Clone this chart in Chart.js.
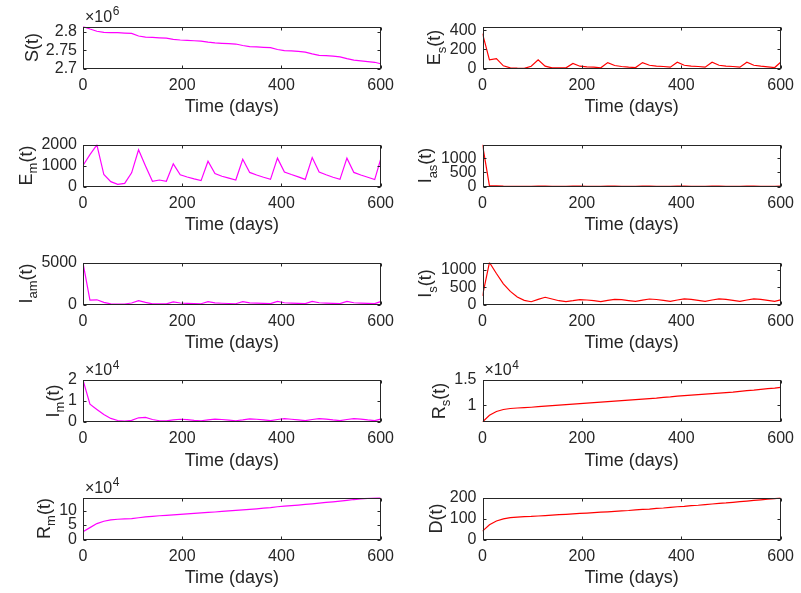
<!DOCTYPE html>
<html>
<head>
<meta charset="utf-8">
<script src="https://cdn.jsdelivr.net/npm/chart.js@4.4.0/dist/chart.umd.min.js"></script>
<style>
  body { margin: 0; background: #fff; width: 801px; height: 593px; position: relative; overflow: hidden; }
  canvas { position: absolute; }
</style>
</head>
<body>
<script>
// time axis (days), sampled every 14 days
const days = [0,14,28,42,56,70,84,98,112,126,140,154,168,182,196,210,224,238,252,266,280,294,308,322,336,350,364,378,392,406,420,434,448,462,476,490,504,518,532,546,560,574,588,600];

// compartments (S in 1e6, I_m / R_s / R_m in 1e4)
const S   = [2.815,2.808,2.802,2.799,2.798,2.798,2.797,2.796,2.789,2.786,2.785,2.784,2.783,2.780,2.778,2.777,2.776,2.775,2.772,2.770,2.769,2.768,2.767,2.763,2.760,2.759,2.758,2.757,2.752,2.749,2.748,2.747,2.745,2.740,2.736,2.735,2.734,2.732,2.727,2.723,2.721,2.719,2.717,2.713];
const Es  = [365,90,103,28,7,3,2,24,90,24,7,7,7,52,24,17,14,7,62,31,21,14,10,62,34,24,21,14,65,34,24,21,14,65,34,24,21,14,65,34,24,17,10,65];
const Em  = [1000,1520,1980,570,230,100,150,650,1750,980,250,310,250,1080,560,450,360,280,1200,620,490,400,310,1300,670,550,440,340,1350,690,570,460,340,1380,690,560,440,340,1350,670,550,440,330,1300];
const Ias = [1480,25,20,10,6,4,4,8,18,14,7,5,5,12,10,8,6,5,14,10,8,6,5,15,11,8,6,5,15,11,8,6,5,15,11,8,6,5,15,11,8,6,5,14];
const Iam = [4950,520,560,250,80,50,60,180,450,250,80,90,80,300,180,140,110,90,330,190,150,120,90,350,200,160,130,100,370,210,170,140,100,370,210,170,140,100,370,210,170,140,100,350];
const Is  = [250,1220,900,600,380,220,120,80,150,210,160,110,85,110,140,130,110,85,120,150,140,115,90,125,160,145,120,90,130,165,150,120,90,130,165,150,120,90,130,165,150,120,90,135];
const Im  = [2.0,0.85,0.6,0.36,0.17,0.07,0.04,0.08,0.2,0.22,0.12,0.06,0.05,0.1,0.13,0.11,0.08,0.06,0.1,0.14,0.12,0.09,0.06,0.1,0.15,0.13,0.1,0.07,0.12,0.16,0.13,0.1,0.07,0.12,0.16,0.14,0.1,0.07,0.12,0.16,0.14,0.1,0.07,0.14];
const Rs  = [0.667,0.80,0.875,0.915,0.935,0.945,0.952,0.96,0.97,0.98,0.99,1.0,1.01,1.02,1.03,1.04,1.05,1.06,1.07,1.08,1.09,1.10,1.11,1.12,1.13,1.14,1.155,1.165,1.18,1.19,1.20,1.21,1.22,1.23,1.24,1.25,1.26,1.275,1.29,1.30,1.315,1.33,1.34,1.353];
const Rm  = [2.7,4.1,5.5,6.3,6.8,7.0,7.1,7.2,7.5,7.8,8.0,8.2,8.35,8.5,8.7,8.85,9.0,9.2,9.35,9.5,9.7,9.9,10.05,10.2,10.4,10.6,10.8,11.0,11.3,11.5,11.7,11.9,12.1,12.3,12.55,12.8,13.0,13.25,13.5,13.8,14.0,14.2,14.4,14.5];
const D   = [40,70,88,98,104,107,109,110,112,114,116,118,120,122,124,126,128,130,132,134,136,138,141,143,145,148,150,153,156,158,161,163,166,169,172,174,177,180,183,186,189,192,195,198];

// axis ticks
const xTicks = [0, 200, 400, 600];
const sTicks = [2.7, 2.75, 2.8],   sLabels = ['2.7', '2.75', '2.8'];
const esTicks = [0, 200, 400],     esLabels = ['0', '200', '400'];
const emTicks = [0, 1000, 2000],   emLabels = ['0', '1000', '2000'];
const iasTicks = [0, 500, 1000],   iasLabels = ['0', '500', '1000'];
const iamTicks = [0, 5000],        iamLabels = ['0', '5000'];
const isTicks = [0, 500, 1000],    isLabels = ['0', '500', '1000'];
const imTicks = [0, 1, 2],         imLabels = ['0', '1', '2'];
const rsTicks = [1, 1.5],          rsLabels = ['1', '1.5'];
const rmTicks = [0, 5, 10],        rmLabels = ['0', '5', '10'];
const dTicks = [0, 100, 200],      dLabels = ['0', '100', '200'];

const MAGENTA = '#ff00ff', RED = '#ff0000', INK = '#262626';
const FONT = '"Liberation Sans", Arial, Helvetica, sans-serif';
Chart.defaults.font.family = FONT;
Chart.defaults.color = INK;

const COL_LEFT = [83, 482.5];
const ROW_TOP = [26.5, 144.5, 262.5, 380, 497.5];
const PLOT_W = 304, PLOT_H = 42;

const panels = [
  { y: S,   color: MAGENTA, min: 2.7, max: 2.815, ticks: sTicks,   labels: sLabels,   name: ['S', '', '(t)'], exp: '6' },
  { y: Es,  color: RED,     min: 0,   max: 440,   ticks: esTicks,  labels: esLabels,  name: ['E', 's', '(t)'] },
  { y: Em,  color: MAGENTA, min: 0,   max: 2000,  ticks: emTicks,  labels: emLabels,  name: ['E', 'm', '(t)'] },
  { y: Ias, color: RED,     min: 0,   max: 1480,  ticks: iasTicks, labels: iasLabels, name: ['I', 'as', '(t)'] },
  { y: Iam, color: MAGENTA, min: 0,   max: 5000,  ticks: iamTicks, labels: iamLabels, name: ['I', 'am', '(t)'] },
  { y: Is,  color: RED,     min: 0,   max: 1220,  ticks: isTicks,  labels: isLabels,  name: ['I', 's', '(t)'] },
  { y: Im,  color: MAGENTA, min: 0,   max: 2,     ticks: imTicks,  labels: imLabels,  name: ['I', 'm', '(t)'], exp: '4' },
  { y: Rs,  color: RED,     min: 0.667, max: 1.5, ticks: rsTicks,  labels: rsLabels,  name: ['R', 's', '(t)'], exp: '4' },
  { y: Rm,  color: MAGENTA, min: 0,   max: 14.5,  ticks: rmTicks,  labels: rmLabels,  name: ['R', 'm', '(t)'], exp: '4' },
  { y: D,   color: RED,     min: 0,   max: 200,   ticks: dTicks,   labels: dLabels,   name: ['D', '', '(t)'] }
];

// MATLAB style box, inward ticks, axis labels with subscripts
const matlabAxes = {
  id: 'matlabAxes',
  afterDraw(chart, args, opts) {
    const { ctx, chartArea: a, scales: { x, y } } = chart;
    ctx.save();
    ctx.strokeStyle = INK;
    ctx.lineWidth = 1;
    const L = Math.round(a.left) + 0.5, R = Math.round(a.right) - 0.5;
    const T = Math.round(a.top) + 0.5, B = Math.round(a.bottom) - 0.5;
    ctx.strokeRect(L, T, R - L, B - T);
    ctx.beginPath();
    x.ticks.forEach(t => {
      const p = Math.round(x.getPixelForValue(t.value)) + 0.5;
      ctx.moveTo(p, B); ctx.lineTo(p, B - 3);
      ctx.moveTo(p, T); ctx.lineTo(p, T + 3);
    });
    y.ticks.forEach(t => {
      const p = Math.round(y.getPixelForValue(t.value)) + 0.5;
      ctx.moveTo(L, p); ctx.lineTo(L + 3, p);
      ctx.moveTo(R, p); ctx.lineTo(R - 3, p);
    });
    ctx.stroke();

    ctx.fillStyle = INK;
    ctx.textBaseline = 'alphabetic';
    ctx.font = '18px ' + FONT;
    ctx.textAlign = 'center';
    ctx.fillText('Time (days)', (a.left + a.right) / 2, a.bottom + 43.5);

    // y label, rotated
    ctx.font = '16px ' + FONT;
    const tickW = Math.max(...opts.labels.map(s => ctx.measureText(s).width));
    const [main, sub, tail] = opts.name;
    const bx = a.left - 6 - tickW - 4 - (sub ? 5.5 : 3.8);
    ctx.font = '18px ' + FONT;
    const wMain = ctx.measureText(main).width, wTail = ctx.measureText(tail).width;
    ctx.font = '13px ' + FONT;
    const wSub = sub ? ctx.measureText(sub).width : 0;
    const total = wMain + wSub + wTail;
    ctx.save();
    ctx.translate(bx, (a.top + a.bottom) / 2);
    ctx.rotate(-Math.PI / 2);
    ctx.textAlign = 'left';
    let pos = -total / 2;
    ctx.font = '18px ' + FONT;
    ctx.fillText(main, pos, 0); pos += wMain;
    if (sub) { ctx.font = '13px ' + FONT; ctx.fillText(sub, pos, 5.5); pos += wSub; }
    ctx.font = '18px ' + FONT;
    ctx.fillText(tail, pos, 0);
    ctx.restore();

    // exponent label
    if (opts.exp) {
      ctx.textAlign = 'left';
      ctx.font = '16px ' + FONT;
      const bx2 = a.left + 2, by2 = a.top - 5;
      ctx.fillText('\u00d710', bx2, by2);
      const w = ctx.measureText('\u00d710').width;
      ctx.font = '12px ' + FONT;
      ctx.fillText(opts.exp, bx2 + w + 0.5, by2 - 6.5);
    }
    ctx.restore();
  }
};

panels.forEach((p, i) => {
  const col = i % 2, row = Math.floor(i / 2);
  const canvasLeft = col === 0 ? 0 : 400;
  const rowTop = ROW_TOP[row];
  const canvasTop = Math.floor(rowTop) - 26;
  const padTop = rowTop - canvasTop;
  const cw = 401, ch = Math.min(593 - canvasTop, 122);
  const yWidth = COL_LEFT[col] - canvasLeft;
  const padRight = cw - yWidth - PLOT_W;

  const cv = document.createElement('canvas');
  cv.width = cw; cv.height = ch;
  cv.style.left = canvasLeft + 'px';
  cv.style.top = canvasTop + 'px';
  document.body.appendChild(cv);

  new Chart(cv.getContext('2d'), {
    type: 'line',
    data: {
      datasets: [{
        data: days.map((d, k) => ({ x: d, y: p.y[k] })),
        borderColor: p.color,
        borderWidth: 1.2,
        pointRadius: 0,
        tension: 0,
        fill: false
      }]
    },
    options: {
      responsive: false,
      animation: false,
      devicePixelRatio: 1,
      layout: { padding: { top: padTop, right: padRight, left: 0, bottom: 0 } },
      plugins: {
        legend: { display: false },
        tooltip: { enabled: false },
        matlabAxes: { labels: p.labels, name: p.name, exp: p.exp }
      },
      scales: {
        x: {
          type: 'linear',
          min: 0, max: 600,
          grid: { display: false, drawTicks: false },
          border: { display: false },
          ticks: { autoSkip: false, maxRotation: 0, padding: 7, font: { size: 16 }, color: INK },
          afterBuildTicks: s => { s.ticks = xTicks.map(v => ({ value: v })); },
          afterFit: s => { s.height = ch - padTop - PLOT_H; }
        },
        y: {
          min: p.min, max: p.max,
          grid: { display: false, drawTicks: false },
          border: { display: false },
          ticks: { autoSkip: false, padding: 6, font: { size: 16 }, color: INK,
                   callback: (v, k) => p.labels[k] },
          afterBuildTicks: s => { s.ticks = p.ticks.map(v => ({ value: v })); },
          afterFit: s => { s.width = yWidth; }
        }
      }
    },
    plugins: [matlabAxes]
  });
});
</script>
</body>
</html>
